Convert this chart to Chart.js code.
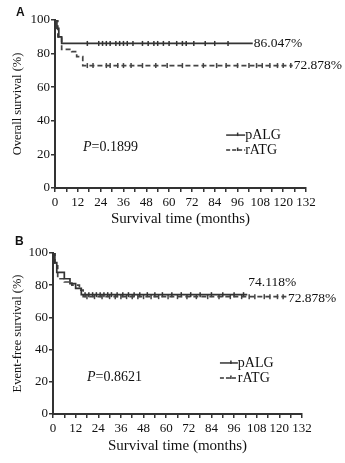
<!DOCTYPE html>
<html>
<head>
<meta charset="utf-8">
<script src="https://cdn.jsdelivr.net/npm/chart.js@4.4.1/dist/chart.umd.min.js"></script>
<style>
  html, body { margin: 0; padding: 0; background: #fff; }
  .panel { position: relative; width: 345px; }
  canvas { display: block; }
</style>
</head>
<body>
<div class="panel"><canvas id="chart-a" width="345" height="230"></canvas></div>
<div class="panel"><canvas id="chart-b" width="345" height="233"></canvas></div>
<script>
// Panel A - overall survival (step times in months, survival %)
const aPalgTimes = [0, 1, 2, 3.5, 104];
const aPalgSurv = [100, 95, 90, 86.047, 86.047];
const aPalgCensor = [17, 23, 25, 27, 29, 32, 34, 36, 38, 41, 46, 49, 52, 54, 57, 60, 64, 67, 69, 73, 79, 84, 91];
const aRatgTimes = [0, 1.5, 3.5, 8.8, 11.4, 14.6, 125];
const aRatgSurv = [100, 90, 82.5, 81.2, 78.2, 72.878, 72.878];
const aRatgCensor = [17, 20, 27, 29, 33, 36, 40, 46, 53, 59, 67, 78, 85, 90, 96, 102, 106, 109, 113, 117, 120, 124];

// Panel B - event-free survival
const bPalgTimes = [0, 1, 2, 6, 9, 12, 15, 103];
const bPalgSurv = [100, 94, 88, 84, 81, 78, 74.118, 74.118];
const bPalgCensor = [17, 19, 21, 23, 25, 27, 29, 31, 34, 37, 40, 43, 46, 50, 54, 58, 63, 68, 73, 78, 84, 90, 96, 101];
const bRatgTimes = [0, 1, 2.5, 6, 10, 14, 16, 124];
const bRatgSurv = [100, 92, 84, 82, 80, 77, 72.878, 72.878];
const bRatgCensor = [18, 22, 26, 30, 33, 36, 39, 42, 45, 48, 52, 56, 61, 66, 71, 76, 82, 88, 94, 100, 104, 107, 112, 115, 119, 122];

const xTicks = [0, 12, 24, 36, 48, 60, 72, 84, 96, 108, 120, 132];
const groupNames = ['pALG', 'rATG'];

const INK = '#333';
const SERIF = '"Liberation Serif", "DejaVu Serif", serif';

// survival value at time t from step arrays
function survAt(times, surv, t) {
  let s = surv[0];
  for (let i = 0; i < times.length; i++) {
    if (times[i] <= t) s = surv[i];
  }
  return s;
}

function curvePoints(times, surv) {
  return times.map((t, i) => ({ x: t, y: surv[i] }));
}

function censorPoints(times, surv, censor) {
  return censor.map(t => ({ x: t, y: survAt(times, surv, t) }));
}

// annotation plugin: panel letter, P value, legend, end labels
const annotations = {
  id: 'annotations',
  afterDraw(chart, args, opts) {
    const { ctx, scales: { x, y } } = chart;
    ctx.save();
    ctx.fillStyle = '#111';

    // panel letter
    ctx.font = 'bold 12px "Liberation Sans", Arial, sans-serif';
    ctx.textBaseline = 'middle';
    ctx.textAlign = 'left';
    ctx.fillText(opts.letter, opts.letterPos[0], opts.letterPos[1]);

    // P value
    ctx.font = 'italic 14px ' + SERIF;
    const px = x.getPixelForValue(opts.pAt[0]);
    const py = y.getPixelForValue(opts.pAt[1]);
    ctx.fillText('P', px, py);
    const pw = ctx.measureText('P').width;
    ctx.font = '14px ' + SERIF;
    ctx.fillText('=' + opts.pValue, px + pw, py);

    // legend
    groupNames.forEach((name, i) => {
      const lx0 = x.getPixelForValue(opts.legendAt[0]);
      const lx1 = x.getPixelForValue(opts.legendAt[1]);
      const ly = y.getPixelForValue(opts.legendAt[2 + i]);
      ctx.strokeStyle = INK;
      ctx.lineWidth = 1.5;
      ctx.setLineDash(i === 0 ? [] : [4, 2]);
      ctx.beginPath();
      ctx.moveTo(lx0, ly);
      ctx.lineTo(lx1, ly);
      ctx.stroke();
      ctx.setLineDash([]);
      ctx.beginPath();
      const mx = (lx0 + lx1) / 2 + 2;
      ctx.moveTo(mx, ly - 2.5);
      ctx.lineTo(mx, ly + 1);
      ctx.stroke();
      ctx.fillStyle = '#111';
      ctx.font = '14px ' + SERIF;
      ctx.fillText(name, lx1, ly);
    });

    // end labels
    ctx.font = '13.5px ' + SERIF;
    opts.endLabels.forEach(l => {
      ctx.textBaseline = l.base;
      ctx.fillText(l.text, x.getPixelForValue(l.x) + 1, y.getPixelForValue(l.y) + l.dy);
    });
    ctx.restore();
  }
};

function makeChart(id, d, yTitle, plotArea, annot) {
  const ctx = document.getElementById(id);
  return new Chart(ctx, {
    type: 'scatter',
    data: {
      datasets: [
        {
          label: 'pALG',
          data: curvePoints(d.palgTimes, d.palgSurv),
          showLine: true,
          stepped: true,
          borderColor: INK,
          borderWidth: 1.7,
          pointRadius: 0
        },
        {
          label: 'rATG',
          data: curvePoints(d.ratgTimes, d.ratgSurv),
          showLine: true,
          stepped: true,
          borderColor: '#444',
          borderWidth: 1.7,
          borderDash: [5, 3],
          pointRadius: 0
        },
        {
          label: 'pALG censored',
          data: censorPoints(d.palgTimes, d.palgSurv, d.palgCensor),
          pointStyle: 'line',
          rotation: 90,
          pointRadius: 2.5,
          borderColor: INK,
          borderWidth: 1.5
        },
        {
          label: 'rATG censored',
          data: censorPoints(d.ratgTimes, d.ratgSurv, d.ratgCensor),
          pointStyle: 'line',
          rotation: 90,
          pointRadius: 2.5,
          borderColor: '#444',
          borderWidth: 1.5
        }
      ]
    },
    options: {
      responsive: false,
      animation: false,
      layout: {
        padding: { left: 0, top: plotArea.top, right: 345 - plotArea.right, bottom: plotArea.padBottom }
      },
      scales: {
        x: {
          type: 'linear',
          min: 0,
          max: 132,
          afterFit: s => { s.height = plotArea.xHeight; },
          border: { color: INK, width: 2 },
          grid: { drawOnChartArea: false, drawTicks: true, tickLength: 4, color: INK, lineWidth: 1.5 },
          ticks: {
            stepSize: 6,
            autoSkip: false,
            maxRotation: 0,
            padding: 3,
            color: '#111',
            font: { family: SERIF, size: 13 },
            callback: v => (xTicks.includes(v) ? v : '')
          },
          title: {
            display: true,
            text: 'Survival time (months)',
            color: '#111',
            padding: { top: 0, bottom: 0 },
            font: { family: SERIF, size: 15 }
          }
        },
        y: {
          min: 0,
          max: 100,
          afterFit: s => { s.width = plotArea.left; },
          border: { color: INK, width: 2 },
          grid: { drawOnChartArea: false, drawTicks: true, tickLength: 4, color: INK, lineWidth: 1.5 },
          ticks: {
            stepSize: 10,
            padding: 1,
            color: '#111',
            font: { family: SERIF, size: 13 },
            callback: v => (v % 20 === 0 ? v : '')
          },
          title: {
            display: true,
            text: yTitle,
            color: '#111',
            padding: { top: 10, bottom: 0 },
            font: { family: SERIF, size: 12.5 }
          }
        }
      },
      plugins: {
        legend: { display: false },
        tooltip: { enabled: false },
        annotations: annot
      }
    },
    plugins: [annotations]
  });
}

makeChart('chart-a', {
  palgTimes: aPalgTimes, palgSurv: aPalgSurv, palgCensor: aPalgCensor,
  ratgTimes: aRatgTimes, ratgSurv: aRatgSurv, ratgCensor: aRatgCensor
}, 'Overall survival (%)', { left: 55, right: 306, top: 20, xHeight: 40.5, padBottom: 1.5 }, {
  letter: 'A',
  letterPos: [16, 13],
  pValue: '0.1899',
  pAt: [14.7, 24.4],
  legendAt: [90, 100, 31.5, 22.6],
  endLabels: [
    { text: '86.047%', x: 104, y: 86.047, dy: 0, base: 'middle' },
    { text: '72.878%', x: 125, y: 72.878, dy: 0, base: 'middle' }
  ]
});

makeChart('chart-b', {
  palgTimes: bPalgTimes, palgSurv: bPalgSurv, palgCensor: bPalgCensor,
  ratgTimes: bRatgTimes, ratgSurv: bRatgSurv, ratgCensor: bRatgCensor
}, 'Event-free survival (%)', { left: 53, right: 302, top: 23, xHeight: 41, padBottom: 8 }, {
  letter: 'B',
  letterPos: [15, 12],
  pValue: '0.8621',
  pAt: [18, 23],
  legendAt: [88.5, 98, 31.7, 22.4],
  endLabels: [
    { text: '74.118%', x: 103, y: 74.118, dy: -5, base: 'bottom' },
    { text: '72.878%', x: 124, y: 72.878, dy: 2, base: 'middle' }
  ]
});
</script>
</body>
</html>
